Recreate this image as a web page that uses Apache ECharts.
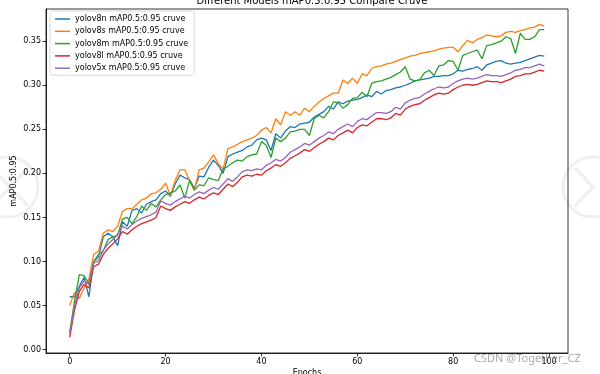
<!DOCTYPE html>
<html>
<head>
<meta charset="utf-8">
<script src="https://cdn.jsdelivr.net/npm/echarts@6/dist/echarts.min.js"></script>
<style>html,body{margin:0;padding:0;background:#fff}#c{width:600px;height:374px}</style>
</head>
<body>
<div id="c"></div>
<script>
var titleText = 'Different Models mAP0.5:0.95 Compare Cruve';
var xName = 'Epochs';
var yName = 'mAP0.5:0.95';
var xTicks = [0, 20, 40, 60, 80, 100];
var yTicks = [0.00, 0.05, 0.10, 0.15, 0.20, 0.25, 0.30, 0.35];
var seriesNames = ['yolov8n mAP0.5:0.95 cruve','yolov8s mAP0.5:0.95 cruve','yolov8m mAP0.5:0.95 cruve','yolov8l mAP0.5:0.95 cruve','yolov5x mAP0.5:0.95 cruve'];
var colors = ['#1f77b4','#ff7f0e','#2ca02c','#d62728','#9467bd'];

var yolov8n = [0.060,0.060,0.072,0.082,0.060,0.100,0.105,0.128,0.132,0.128,0.118,0.145,0.140,0.158,0.160,0.155,0.165,0.168,0.170,0.177,0.180,0.174,0.188,0.198,0.195,0.193,0.183,0.197,0.196,0.207,0.215,0.209,0.200,0.219,0.222,0.224,0.226,0.230,0.232,0.238,0.240,0.238,0.226,0.245,0.240,0.248,0.253,0.252,0.256,0.257,0.258,0.264,0.267,0.270,0.276,0.273,0.281,0.279,0.282,0.283,0.284,0.286,0.289,0.287,0.293,0.290,0.294,0.295,0.297,0.298,0.300,0.302,0.305,0.306,0.307,0.308,0.310,0.310,0.311,0.311,0.313,0.317,0.316,0.318,0.319,0.321,0.317,0.323,0.325,0.327,0.328,0.325,0.324,0.325,0.326,0.328,0.330,0.332,0.334,0.333];
var yolov8s = [0.050,0.065,0.058,0.070,0.080,0.108,0.112,0.132,0.136,0.134,0.140,0.157,0.160,0.160,0.165,0.170,0.172,0.177,0.178,0.182,0.189,0.175,0.192,0.204,0.204,0.192,0.181,0.204,0.206,0.213,0.221,0.211,0.205,0.228,0.230,0.233,0.236,0.238,0.240,0.243,0.249,0.252,0.246,0.262,0.255,0.270,0.266,0.270,0.266,0.274,0.270,0.276,0.281,0.285,0.288,0.291,0.291,0.306,0.302,0.308,0.302,0.313,0.311,0.319,0.321,0.322,0.324,0.325,0.327,0.329,0.331,0.333,0.334,0.336,0.337,0.338,0.339,0.341,0.342,0.343,0.343,0.338,0.345,0.351,0.348,0.352,0.354,0.357,0.356,0.355,0.356,0.360,0.361,0.360,0.362,0.363,0.365,0.366,0.369,0.367];
var yolov8m = [0.020,0.055,0.085,0.084,0.075,0.100,0.108,0.112,0.125,0.128,0.130,0.148,0.150,0.143,0.151,0.163,0.158,0.166,0.162,0.170,0.176,0.178,0.180,0.187,0.172,0.192,0.181,0.187,0.186,0.195,0.193,0.192,0.205,0.208,0.212,0.215,0.214,0.219,0.221,0.222,0.236,0.232,0.218,0.240,0.236,0.240,0.247,0.248,0.250,0.250,0.243,0.262,0.266,0.263,0.270,0.281,0.280,0.274,0.278,0.285,0.286,0.292,0.287,0.302,0.304,0.305,0.307,0.309,0.312,0.315,0.321,0.307,0.305,0.306,0.314,0.317,0.311,0.322,0.323,0.328,0.327,0.317,0.334,0.336,0.338,0.340,0.330,0.345,0.346,0.348,0.350,0.355,0.353,0.336,0.359,0.352,0.352,0.355,0.363,0.363];
var yolov8l = [0.014,0.045,0.066,0.074,0.070,0.094,0.097,0.108,0.115,0.120,0.126,0.134,0.131,0.136,0.140,0.143,0.145,0.147,0.150,0.163,0.160,0.158,0.162,0.165,0.168,0.166,0.170,0.173,0.171,0.175,0.178,0.176,0.182,0.188,0.185,0.190,0.196,0.198,0.197,0.199,0.198,0.203,0.206,0.210,0.208,0.212,0.217,0.220,0.223,0.227,0.225,0.229,0.233,0.236,0.240,0.238,0.243,0.246,0.249,0.246,0.252,0.255,0.254,0.258,0.262,0.262,0.261,0.263,0.268,0.266,0.273,0.276,0.278,0.279,0.283,0.286,0.289,0.291,0.290,0.291,0.295,0.298,0.300,0.301,0.300,0.301,0.303,0.305,0.304,0.304,0.303,0.305,0.307,0.310,0.311,0.313,0.313,0.315,0.317,0.316];
var yolov5x = [0.018,0.050,0.070,0.078,0.074,0.098,0.101,0.113,0.120,0.125,0.131,0.140,0.137,0.142,0.146,0.149,0.151,0.153,0.156,0.169,0.166,0.164,0.168,0.171,0.174,0.172,0.176,0.179,0.177,0.181,0.184,0.182,0.188,0.194,0.191,0.196,0.202,0.204,0.203,0.205,0.204,0.209,0.212,0.216,0.214,0.218,0.224,0.227,0.230,0.234,0.232,0.236,0.240,0.243,0.247,0.245,0.250,0.253,0.256,0.253,0.259,0.262,0.261,0.265,0.269,0.269,0.268,0.270,0.275,0.273,0.280,0.283,0.285,0.286,0.290,0.293,0.296,0.298,0.297,0.298,0.302,0.305,0.307,0.308,0.307,0.308,0.310,0.312,0.311,0.311,0.310,0.312,0.314,0.317,0.318,0.320,0.320,0.322,0.324,0.322];

var allData = [yolov8n, yolov8s, yolov8m, yolov8l, yolov5x];
var FONT = 'DejaVu Sans';

var chart = echarts.init(document.getElementById('c'), null, {renderer: 'canvas'});
var series = allData.map(function (arr, k) {
  return {
    name: seriesNames[k],
    type: 'line',
    showSymbol: false,
    symbol: 'none',
    animation: false,
    lineStyle: {color: colors[k], width: 1.3},
    itemStyle: {color: colors[k]},
    data: arr.map(function (v, i) { return [i, v]; })
  };
});

chart.setOption({
  animation: false,
  backgroundColor: '#fff',
  title: {
    text: titleText,
    left: 307, top: -9,
    textAlign: 'center',
    textStyle: {fontFamily: FONT, fontSize: 10, fontWeight: 'normal', color: '#000'}
  },
  grid: {left: 46, right: 32, top: 9, bottom: 21, show: true, borderColor: '#000', borderWidth: 0.8,
    backgroundColor: 'transparent', containLabel: false, outerBoundsMode: 'none'},
  legend: {
    orient: 'vertical', left: 50, top: 11,
    data: seriesNames,
    icon: 'rect', itemWidth: 15, itemHeight: 1.5, itemGap: 4.3,
    backgroundColor: '#fff', borderColor: '#d0d0d0', borderWidth: 0.8, borderRadius: 2,
    padding: [4, 6, 3, 5],
    textStyle: {fontFamily: FONT, fontSize: 8, color: '#000', padding: [0, 0, 0, 0]}
  },
  xAxis: {
    type: 'value', min: -4.95, max: 103.95,
    name: xName, nameLocation: 'middle', nameGap: 16, nameMoveOverlap: false,
    nameTextStyle: {fontFamily: FONT, fontSize: 8, color: '#000'},
    axisLine: {show: true, onZero: false, lineStyle: {color: '#000', width: 0.8}},
    axisTick: {show: true, length: 3.5, lineStyle: {color: '#000', width: 0.8}, customValues: xTicks},
    axisLabel: {fontFamily: FONT, fontSize: 8, color: '#000', margin: 5, customValues: xTicks},
    splitLine: {show: false}
  },
  yAxis: {
    type: 'value', min: -0.0038, max: 0.3865,
    name: yName, nameLocation: 'middle', nameGap: 28, nameRotate: 90, nameMoveOverlap: false,
    nameTextStyle: {fontFamily: FONT, fontSize: 8, color: '#000'},
    axisLine: {show: true, onZero: false, lineStyle: {color: '#000', width: 0.8}},
    axisTick: {show: true, length: 3.5, lineStyle: {color: '#000', width: 0.8}, customValues: yTicks},
    axisLabel: {fontFamily: FONT, fontSize: 8, color: '#000', margin: 5, customValues: yTicks,
      formatter: function (v) { return v.toFixed(2); }},
    splitLine: {show: false}
  },
  graphic: [
    {type: 'circle', shape: {cx: 8, cy: 187, r: 30}, style: {fill: 'none', stroke: '#efefef', lineWidth: 3}, z: -10, silent: true},
    {type: 'polyline', shape: {points: [[-8, 168], [10, 187], [-8, 206]]}, style: {fill: 'none', stroke: '#efefef', lineWidth: 3}, z: -10, silent: true},
    {type: 'polyline', shape: {points: [[28, 168], [10, 187], [28, 206]]}, style: {fill: 'none', stroke: '#efefef', lineWidth: 3}, z: -10, silent: true},
    {type: 'circle', shape: {cx: 593, cy: 187, r: 30}, style: {fill: 'none', stroke: '#efefef', lineWidth: 3}, z: -10, silent: true},
    {type: 'polyline', shape: {points: [[575, 168], [593, 187], [575, 206]]}, style: {fill: 'none', stroke: '#efefef', lineWidth: 3}, z: -10, silent: true},
    {type: 'text', left: 474, top: 353, style: {text: 'CSDN @Together_CZ', fontFamily: 'Noto Sans', fontSize: 11, fill: 'rgba(140,140,140,0.75)'}, z: 100, silent: true}
  ],
  series: series
});
</script>
</body>
</html>
